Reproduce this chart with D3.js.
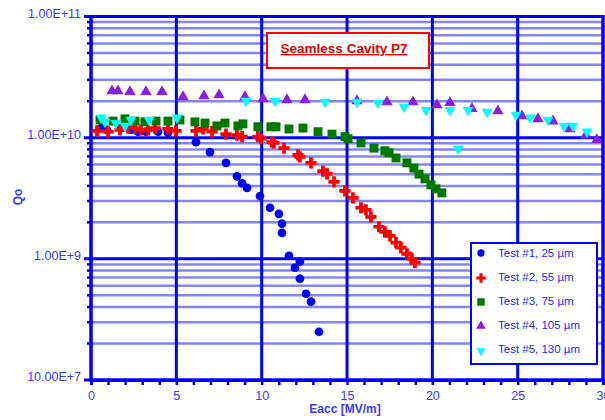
<!DOCTYPE html>
<html>
<head>
<meta charset="utf-8">
<script src="https://cdnjs.cloudflare.com/ajax/libs/d3/7.8.5/d3.min.js"></script>
<style>
    body { margin: 0; background: #fff; }
    #chart { width: 605px; height: 420px; }
    text { font-family: "Liberation Sans", Arial, sans-serif; }
</style>
</head>
<body>
<div id="chart"></div>
<script>

// [Eacc MV/m, Qo]
const test1 = [[0.59, 1.2e10], [0.94, 1.16e10], [1.76, 1.2e10], [2.34, 1.16e10], [2.75, 1.12e10],
    [3.22, 1.12e10], [3.93, 1.12e10], [4.51, 1.1e10], [6.15, 9.2e9], [6.97, 7.6e9], [7.91, 6.2e9],
    [8.55, 4.8e9], [8.85, 4.2e9], [9.14, 3.85e9], [9.9, 3.3e9], [10.49, 2.64e9], [11.01, 2.35e9],
    [11.19, 1.95e9], [11.19, 1.64e9], [11.6, 1.06e9], [11.95, 8.45e8], [12.24, 9.5e8], [12.24, 6.85e8],
    [12.6, 5.15e8], [12.89, 4.43e8], [13.36, 2.5e8]];

const test2 = [[0.35, 1.14e10], [1.0, 1.12e10], [1.7, 1.16e10], [2.17, 1.2e10], [2.58, 1.2e10],
    [2.93, 1.16e10], [3.34, 1.16e10], [3.75, 1.2e10], [4.51, 1.18e10], [4.98, 1.14e10], [6.15, 1.14e10],
    [6.56, 1.18e10], [7.09, 1.12e10], [7.91, 1.07e10], [8.55, 1.05e10], [8.85, 1.02e10], [9.78, 1.02e10],
    [9.96, 9.8e9], [10.6, 9.2e9], [10.72, 9.05e9], [11.31, 8.2e9], [12.13, 7.2e9], [12.24, 6.95e9],
    [12.89, 6.2e9], [13.59, 5.3e9], [13.83, 5.03e9], [14.24, 4.32e9], [14.88, 3.64e9], [15.35, 3.19e9],
    [15.82, 2.64e9], [16.11, 2.54e9], [16.4, 2.22e9], [16.87, 1.84e9], [17.22, 1.67e9], [17.52, 1.55e9],
    [17.87, 1.36e9], [18.16, 1.24e9], [18.51, 1.1e9], [18.8, 1.0e9], [18.98, 9.3e8]];

const test3 = [[0.53, 1.4e10], [1.29, 1.37e10], [1.99, 1.43e10], [2.58, 1.37e10], [3.16, 1.35e10],
    [3.81, 1.37e10], [4.51, 1.37e10], [5.21, 1.4e10], [6.09, 1.35e10], [6.68, 1.32e10], [7.38, 1.25e10],
    [7.85, 1.32e10], [8.61, 1.25e10], [8.9, 1.3e10], [9.78, 1.23e10], [10.54, 1.23e10], [10.84, 1.23e10],
    [11.6, 1.18e10], [12.42, 1.2e10], [13.3, 1.12e10], [14.12, 1.07e10], [14.88, 1.02e10], [15.06, 9.8e9],
    [15.82, 9.05e9], [16.58, 8.2e9], [17.22, 7.8e9], [17.46, 7.5e9], [17.87, 6.8e9], [18.51, 6.2e9],
    [18.92, 5.6e9], [19.22, 5.0e9], [19.57, 4.57e9], [19.92, 4.08e9], [20.21, 3.78e9], [20.56, 3.5e9]];

const test4 = [[1.23, 2.43e10], [1.58, 2.43e10], [2.28, 2.39e10], [3.22, 2.39e10], [4.16, 2.39e10],
    [5.39, 2.17e10], [6.62, 2.21e10], [7.5, 2.25e10], [9.02, 2.17e10], [10.08, 2.09e10], [11.48, 2.05e10],
    [12.54, 2.05e10], [15.58, 2.01e10], [17.34, 1.97e10], [18.86, 1.97e10], [20.27, 1.86e10],
    [21.03, 1.94e10], [22.32, 1.73e10], [23.84, 1.66e10], [25.25, 1.51e10], [26.19, 1.43e10],
    [27.07, 1.37e10], [28.06, 1.18e10], [29.0, 1.05e10], [29.64, 9.6e9]];

const test5 = [[0.59, 1.46e10], [0.82, 1.35e10], [1.46, 1.32e10], [1.99, 1.25e10], [2.34, 1.4e10],
    [3.4, 1.4e10], [5.04, 1.46e10], [9.08, 2.01e10], [10.78, 2.01e10], [13.71, 1.97e10], [15.58, 1.97e10],
    [16.81, 1.94e10], [18.34, 1.8e10], [19.63, 1.69e10], [21.03, 1.69e10], [21.5, 8.1e9], [22.09, 1.69e10],
    [23.2, 1.63e10], [24.9, 1.54e10], [25.72, 1.46e10], [26.77, 1.4e10], [27.71, 1.25e10], [28.24, 1.25e10],
    [29.06, 1.12e10]];

const seriesNames = ["Test #1, 25 \u00b5m", "Test #2, 55 \u00b5m", "Test #3, 75 \u00b5m",
    "Test #4, 105 \u00b5m", "Test #5, 130 \u00b5m"];
const xTicks = [0, 5, 10, 15, 20, 25, 30];
const yTicks = [1e8, 1e9, 1e10, 1e11];
const yTickLabels = ["10.00E+7", "1.00E+9", "1.00E+10", "1.00E+11"];
const chartTitle = "Seamless Cavity P7";
const xTitle = "Eacc [MV/m]";
const yTitle = "Qo";

class QChart {

    constructor(parentElement, series) {
        this.parentElement = parentElement;
        this.series = series;
        this.initVis();
    }

    initVis() {
        let vis = this;

        vis.margin = {top: 16.5, right: 2, bottom: 40, left: 91};
        vis.W = 605;
        vis.H = 420;
        vis.width = vis.W - vis.margin.left - vis.margin.right;
        vis.height = vis.H - vis.margin.top - vis.margin.bottom;

        vis.svg = d3.select("#" + vis.parentElement).append("svg")
            .attr("width", vis.W)
            .attr("height", vis.H)
            .append("g")
            .attr("transform", `translate(${vis.margin.left}, ${vis.margin.top})`);

        vis.x = d3.scaleLinear().domain([0, 30]).range([0, vis.width]);
        vis.y = d3.scaleLog().domain([1e8, 1e11]).range([vis.height, 0]);

        vis.blue = "#0000ff";
        vis.textBlue = "#3a3aff";
        vis.color = ["#0000ff", "#ff0000", "#007800", "#8a1ee6", "#00ffff"];
        vis.shapes = [d3.symbolCircle, d3.symbolCross, d3.symbolSquare, d3.symbolTriangle, d3.symbolTriangle];
        vis.sizes = [60, 70, 80, 56, 52];

        // minor horizontal grid
        let minor = [];
        [1e8, 1e9, 1e10].forEach(d => { for (let k = 2; k <= 9; k++) minor.push(d * k); });
        vis.svg.selectAll(".minor-grid").data(minor).enter().append("line")
            .attr("class", "minor-grid")
            .attr("x1", 0).attr("x2", vis.width)
            .attr("y1", d => vis.y(d)).attr("y2", d => vis.y(d))
            .attr("stroke", "#8484f4").attr("stroke-width", 2.5);
        // left side minor ticks
        vis.svg.selectAll(".minor-tick").data(minor).enter().append("line")
            .attr("x1", -4).attr("x2", 0)
            .attr("y1", d => vis.y(d)).attr("y2", d => vis.y(d))
            .attr("stroke", vis.blue).attr("stroke-width", 2.5);

        // major horizontal grid
        vis.svg.selectAll(".major-grid").data(yTicks).enter().append("line")
            .attr("x1", -7).attr("x2", vis.width)
            .attr("y1", d => vis.y(d)).attr("y2", d => vis.y(d))
            .attr("stroke", vis.blue).attr("stroke-width", 3);

        // vertical grid
        vis.svg.selectAll(".v-grid").data(xTicks).enter().append("line")
            .attr("x1", d => vis.x(d)).attr("x2", d => vis.x(d))
            .attr("y1", 0).attr("y2", vis.height)
            .attr("stroke", vis.blue).attr("stroke-width", 3);

        // x axis
        vis.xAxis = d3.axisBottom(vis.x)
            .tickValues(d3.range(0, 31))
            .tickSize(5)
            .tickPadding(6)
            .tickFormat(d => xTicks.includes(d) ? d : "");
        let gx = vis.svg.append("g")
            .attr("class", "x-axis axis")
            .attr("transform", `translate(0, ${vis.height})`)
            .call(vis.xAxis);
        gx.select(".domain").attr("stroke", vis.blue).attr("stroke-width", 3);
        gx.selectAll(".tick line").attr("stroke", vis.blue).attr("stroke-width", 2.5);
        gx.selectAll(".tick text").attr("fill", vis.textBlue).attr("font-size", 12.5)
            .attr("font-family", "Liberation Sans, Arial, sans-serif");

        // y labels
        vis.svg.selectAll(".y-label").data(yTicks).enter().append("text")
            .attr("x", -10)
            .attr("y", d => vis.y(d) + 1)
            .attr("text-anchor", "end")
            .attr("font-size", 12.5)
            .attr("fill", vis.textBlue)
            .text((d, i) => yTickLabels[i]);

        // frame
        vis.svg.append("rect")
            .attr("x", 0).attr("y", 0)
            .attr("width", vis.width).attr("height", vis.height)
            .attr("fill", "none").attr("stroke", vis.blue).attr("stroke-width", 3);

        // axis titles
        vis.svg.append("text")
            .attr("x", 345 - vis.margin.left).attr("y", vis.height + 33)
            .attr("text-anchor", "middle")
            .attr("font-size", 12).attr("font-weight", "bold")
            .attr("fill", vis.textBlue)
            .text(xTitle);
        vis.svg.append("text")
            .attr("transform", `translate(${22 - vis.margin.left}, ${197 - vis.margin.top}) rotate(-90)`)
            .attr("text-anchor", "middle")
            .attr("font-size", 12).attr("font-weight", "bold")
            .attr("fill", vis.textBlue)
            .text(yTitle);

        vis.updateVis();
    }

    updateVis() {
        let vis = this;

        vis.series.forEach((data, i) => {
            let sym = d3.symbol().type(vis.shapes[i]).size(vis.sizes[i]);
            vis.svg.append("g").attr("class", "series-" + i)
                .selectAll("path").data(data).enter().append("path")
                .attr("d", sym)
                .attr("transform", d => `translate(${vis.x(d[0])}, ${vis.y(d[1])})` + (i === 4 ? " rotate(180)" : ""))
                .attr("fill", vis.color[i]);
        });

        // title box
        let tb = vis.svg.append("g")
            .attr("transform", `translate(${267 - vis.margin.left}, ${33 - vis.margin.top})`);
        tb.append("rect")
            .attr("width", 162).attr("height", 35)
            .attr("fill", "#fff").attr("stroke", "#ff0000").attr("stroke-width", 2);
        tb.append("text")
            .attr("x", 77).attr("y", 20)
            .attr("text-anchor", "middle")
            .attr("font-size", 13.5).attr("font-weight", "bold")
            .attr("fill", "#e00000")
            .attr("text-decoration", "underline")
            .text(chartTitle);

        // legend
        let lg = vis.svg.append("g")
            .attr("transform", `translate(${471 - vis.margin.left}, ${243 - vis.margin.top})`);
        lg.append("rect")
            .attr("width", 126).attr("height", 121)
            .attr("fill", "#fff").attr("stroke", vis.blue).attr("stroke-width", 2);
        let rows = lg.selectAll(".legend-row").data(seriesNames).enter().append("g")
            .attr("transform", (d, i) => `translate(0, ${10 + i * 24})`);
        rows.append("path")
            .attr("d", (d, i) => d3.symbol().type(vis.shapes[i]).size(vis.sizes[i] * 0.7)())
            .attr("transform", (d, i) => `translate(10, ${i === 0 ? 0 : i === 4 ? 2 : 1})` + (i === 4 ? " rotate(180)" : ""))
            .attr("fill", (d, i) => vis.color[i]);
        rows.append("text")
            .attr("x", 27).attr("y", 4)
            .attr("font-size", 11.5)
            .attr("fill", "#2a2af0")
            .text(d => d);
    }
}

new QChart("chart", [test1, test2, test3, test4, test5]);
</script>
</body>
</html>
